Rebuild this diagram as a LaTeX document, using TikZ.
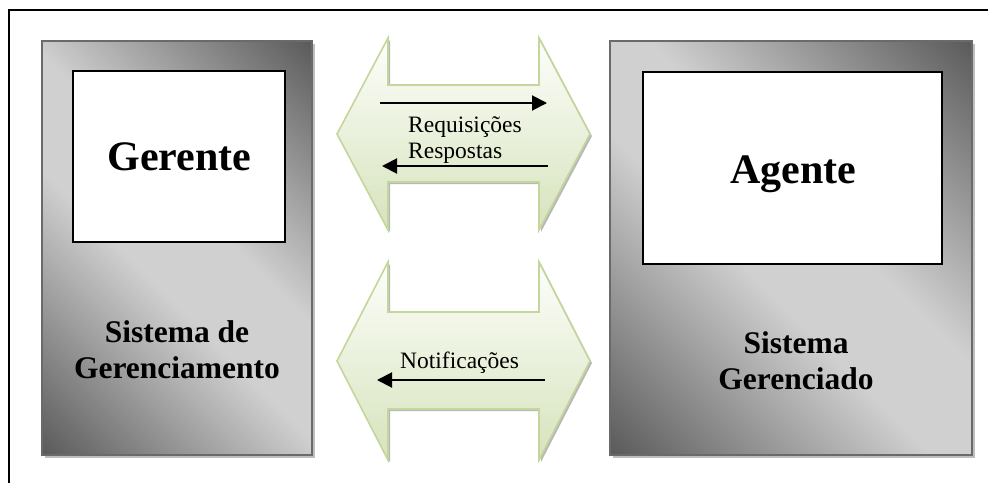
\documentclass[tikz,border=0pt]{standalone}
\usepackage{fontspec}
\setmainfont{Liberation Serif}
\usetikzlibrary{arrows.meta}

\definecolor{gdark}{HTML}{5C5C5C}
\definecolor{glight}{HTML}{D0D0D0}
\definecolor{gborder}{HTML}{6A6A6A}
\definecolor{gshadow}{HTML}{BEBEBE}
\definecolor{arrowline}{HTML}{C3D69B}
\definecolor{arrowtop}{HTML}{FDFEFB}
\definecolor{arrowbot}{HTML}{D6E3BC}

% dark - light - dark metallic ramp for the system boxes
\pgfdeclarehorizontalshading{steel}{100bp}{%
  color(0bp)=(gdark); color(15bp)=(gdark); color(44bp)=(glight);
  color(56bp)=(glight); color(85bp)=(gdark); color(100bp)=(gdark)}

\tikzset{
  sysbox/.style={draw=gborder, line width=1.6pt, shading=steel, shading angle=45},
  boxshadow/.style={fill=gshadow, draw=none},
  rolebox/.style={draw=black, line width=1.4pt, fill=white},
  rolelabel/.style={font=\bfseries\fontsize{42}{48}\selectfont, inner sep=0pt},
  syslabel/.style={font=\bfseries\fontsize{31.5}{36}\selectfont, inner sep=0pt, anchor=base},
  msglabel/.style={font=\fontsize{23.5}{27}\selectfont, inner sep=0pt, anchor=base west},
  fatarrow/.style={draw=arrowline, line width=1.6pt, top color=arrowtop, bottom color=arrowbot, line join=miter},
  fatshadow/.style={fill=black!28, draw=none},
  msgarrow/.style={line width=2pt, -{Triangle[length=15pt,width=15pt]}},
}

\begin{document}
\begin{tikzpicture}[x=1pt, y=-1pt]
\useasboundingbox (0,0) rectangle (988,483);

% frame
\draw[line width=1.5pt] (988,10) -- (9,10) -- (9,483);

% managing system (left)
\fill[boxshadow] (45,44) rectangle (315,458);
\draw[sysbox] (42,41) rectangle (312,455);
\node[rolebox, minimum width=212pt, minimum height=171pt] (gerbox) at (179,156.5) {};
\node[rolelabel, anchor=base] (gerente) at (179.5,170) {Gerente};
\node[syslabel] (sis1) at (177,342) {Sistema de};
\node[syslabel] (sis1b) at (177,378) {Gerenciamento};

% managed system (right)
\fill[boxshadow] (613,44) rectangle (975,458);
\draw[sysbox] (610,41) rectangle (972,455);
\node[rolebox, minimum width=299pt, minimum height=192pt] (agbox) at (792.5,168) {};
\node[rolelabel, anchor=base] (agente) at (793,183) {Agente};
\node[syslabel] (sis2) at (796,353) {Sistema};
\node[syslabel] (sis2b) at (796,389) {Gerenciado};

% request / response channel
\fill[fatshadow, shift={(2,2)}] (337,134) -- (388,38) -- (388,85) -- (539,85) -- (539,38) -- (590,134)
  -- (539,230) -- (539,182) -- (388,182) -- (388,230) -- cycle;
\draw[fatarrow] (337,134) -- (388,38) -- (388,85) -- (539,85) -- (539,38) -- (590,134)
  -- (539,230) -- (539,182) -- (388,182) -- (388,230) -- cycle;

% notification channel
\fill[fatshadow, shift={(2,2)}] (337,361) -- (388,262) -- (388,312) -- (539,312) -- (539,262) -- (590,361)
  -- (539,460) -- (539,409) -- (388,409) -- (388,460) -- cycle;
\draw[fatarrow] (337,361) -- (388,262) -- (388,312) -- (539,312) -- (539,262) -- (590,361)
  -- (539,460) -- (539,409) -- (388,409) -- (388,460) -- cycle;

% message flows
\coordinate (reqA) at (380,103);
\coordinate (reqB) at (547,103);
\coordinate (resA) at (548,166);
\coordinate (resB) at (382,166);
\coordinate (notA) at (545,380);
\coordinate (notB) at (377,380);
\draw[msgarrow] (reqA) -- (reqB);
\draw[msgarrow] (resA) -- (resB);
\draw[msgarrow] (notA) -- (notB);

\node[msglabel] (req) at (408,132) {Requisições};
\node[msglabel] (res) at (408,158) {Respostas};
\node[msglabel] (notif) at (400,368) {Notificações};
\end{tikzpicture}
\end{document}
